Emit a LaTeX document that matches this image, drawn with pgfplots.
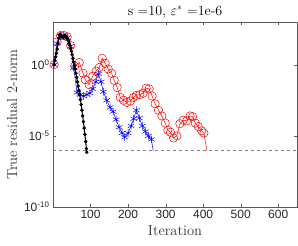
\documentclass[border=0pt]{standalone}
\usepackage{pgfplots}
\pgfplotsset{compat=1.18}
\usepackage{fontspec}
\newfontfamily\ticksf{Liberation Sans}
\usetikzlibrary{calc}

\begin{document}
\begin{tikzpicture}
\begin{axis}[name=a, scale only axis, width=244pt, height=185pt,
  xmin=0, xmax=650, ymode=log, ymin=1e-10, ymax=1e3,
  xtick={100,200,300,400,500,600},
  ytick={1e-10,1e-5,1},
  yticklabels={10\textsuperscript{-10},10\textsuperscript{-5},10\textsuperscript{0}},
  yminorticks=false,
  tick align=inside, major tick length=3pt,
  axis line style={gray!70!black, line width=0.5pt},
  tick style={gray!70!black},
  ticklabel style={font=\ticksf\fontsize{12}{14}\selectfont, text=black!85},
  /pgf/number format/assume math mode=true,
  xlabel={Iteration}, ylabel={True residual 2-norm},
  label style={font=\fontsize{14.5}{17}\selectfont, text=black!80},
  title={s =10, $\varepsilon^*$ =1e-6},
  every axis title/.style={at={(0.5,1)}, anchor=base, yshift=6pt, font=\fontsize{14}{17}\selectfont},
  clip=true,
]
% tolerance line
\addplot[gray, dashed, line width=0.5pt, forget plot] coordinates {(0,1e-6)(650,1e-6)};
% red line (full)
\addplot[red, line width=0.5pt, no marks] coordinates {
(3,1)(11,39.8)(20,112)(29,112)(38,89.1)(47,22.4)(58,0.794)(70,1.41)(80,0.251)(86,0.0891)
(96,0.0398)(106,0.158)(115,0.355)(123,0.631)(131,2.82)(139,1.26)(147,0.501)(156,0.251)(163,0.0794)(171,0.0251)
(179,5.01e-3)(188,3.16e-3)(197,2.24e-3)(206,2.82e-3)(214,5.01e-3)(222,7.08e-3)(231,7.94e-3)(240,1e-2)(248,2.24e-2)(256,2.0e-2)
(264,6.31e-3)(272,1.78e-3)(281,6.31e-4)(290,2.51e-4)(299,7.94e-5)(306,2.51e-5)(313,1.78e-5)(321,7.08e-6)(330,1e-5)(338,7.08e-5)
(347,1.26e-4)(356,1.12e-4)(365,2.51e-4)(372,2.24e-4)(379,7.94e-5)(387,4.47e-5)(396,2.24e-5)(402,1.58e-5)(410,8.91e-7)};
\addplot[red, line width=0.5pt, only marks, mark=o, mark size=4.2pt] coordinates {
(3,1)(11,39.8)(20,112)(29,112)(38,89.1)(47,22.4)(58,0.794)(70,1.41)(80,0.251)(86,0.0891)
(96,0.0398)(106,0.158)(115,0.355)(123,0.631)(131,2.82)(139,1.26)(147,0.501)(156,0.251)(163,0.0794)(171,0.0251)
(179,5.01e-3)(188,3.16e-3)(197,2.24e-3)(206,2.82e-3)(214,5.01e-3)(222,7.08e-3)(231,7.94e-3)(240,1e-2)(248,2.24e-2)(256,2.0e-2)
(264,6.31e-3)(272,1.78e-3)(281,6.31e-4)(290,2.51e-4)(299,7.94e-5)(306,2.51e-5)(313,1.78e-5)(321,7.08e-6)(330,1e-5)(338,7.08e-5)
(347,1.26e-4)(356,1.12e-4)(365,2.51e-4)(372,2.24e-4)(379,7.94e-5)(387,4.47e-5)(396,2.24e-5)(402,1.58e-5)};
% blue
\addplot[blue, line width=0.5pt, no marks] coordinates {
(3,1)(11,31.6)(20,100)(29,112)(38,79.4)(47,20.0)(55,0.631)(64,1.12e-2)(73,7.94e-3)(81,6.31e-3)
(90,7.94e-3)(98,1e-2)(106,2.0e-2)(114,6.31e-2)(121,0.224)(128,6.31e-2)(134,1.26e-2)(143,3.16e-3)(152,1e-3)(160,5.01e-4)
(168,1.41e-4)(176,3.98e-5)(184,1.58e-5)(191,7.94e-6)(200,1.58e-5)(208,5.01e-5)(215,1.58e-4)(222,6.31e-4)(230,1.78e-4)(238,5.01e-5)
(246,2.0e-5)(254,1e-5)(262,5.62e-6)(267,8.91e-7)};
\addplot[blue, line width=0.5pt, only marks, mark=asterisk, mark size=3.8pt] coordinates {
(3,1)(11,31.6)(20,100)(29,112)(38,79.4)(47,20.0)(55,0.631)(64,1.12e-2)(73,7.94e-3)(81,6.31e-3)
(90,7.94e-3)(98,1e-2)(106,2.0e-2)(114,6.31e-2)(121,0.224)(128,6.31e-2)(134,1.26e-2)(143,3.16e-3)(152,1e-3)(160,5.01e-4)
(168,1.41e-4)(176,3.98e-5)(184,1.58e-5)(191,7.94e-6)(200,1.58e-5)(208,5.01e-5)(215,1.58e-4)(222,6.31e-4)(230,1.78e-4)(238,5.01e-5)
(246,2.0e-5)(254,1e-5)(262,5.62e-6)};
% black
\addplot[black, line width=1pt, mark=*, mark size=1.2pt] coordinates {
(3,1)(5,2.0)(7,3.55)(9,6.31)(11,12.6)(13,31.6)(15,70.8)(17,126)(19,141)(21,112)
(23,100)(25,89.1)(27,79.4)(29,89.1)(31,112)(33,100)(35,89.1)(37,79.4)(39,63.1)(41,50.1)
(43,31.6)(45,22.4)(47,14.1)(49,8.91)(51,5.01)(53,2.82)(55,1.58)(57,0.891)(59,0.501)(61,0.251)
(63,0.126)(65,6.31e-2)(67,3.16e-2)(69,1.58e-2)(71,7.94e-3)(73,3.55e-3)(75,1.58e-3)(77,6.31e-4)(79,2.51e-4)(81,1e-4)
(83,3.55e-5)(85,1.26e-5)(87,3.98e-6)(89,1.26e-6)(90,7.08e-7)};
\end{axis}
\pgfresetboundingbox
\path ($(a.south west)+(-53pt,-38pt)$) rectangle ($(a.north east)+(1pt,22pt)$);
\end{tikzpicture}
\end{document}
